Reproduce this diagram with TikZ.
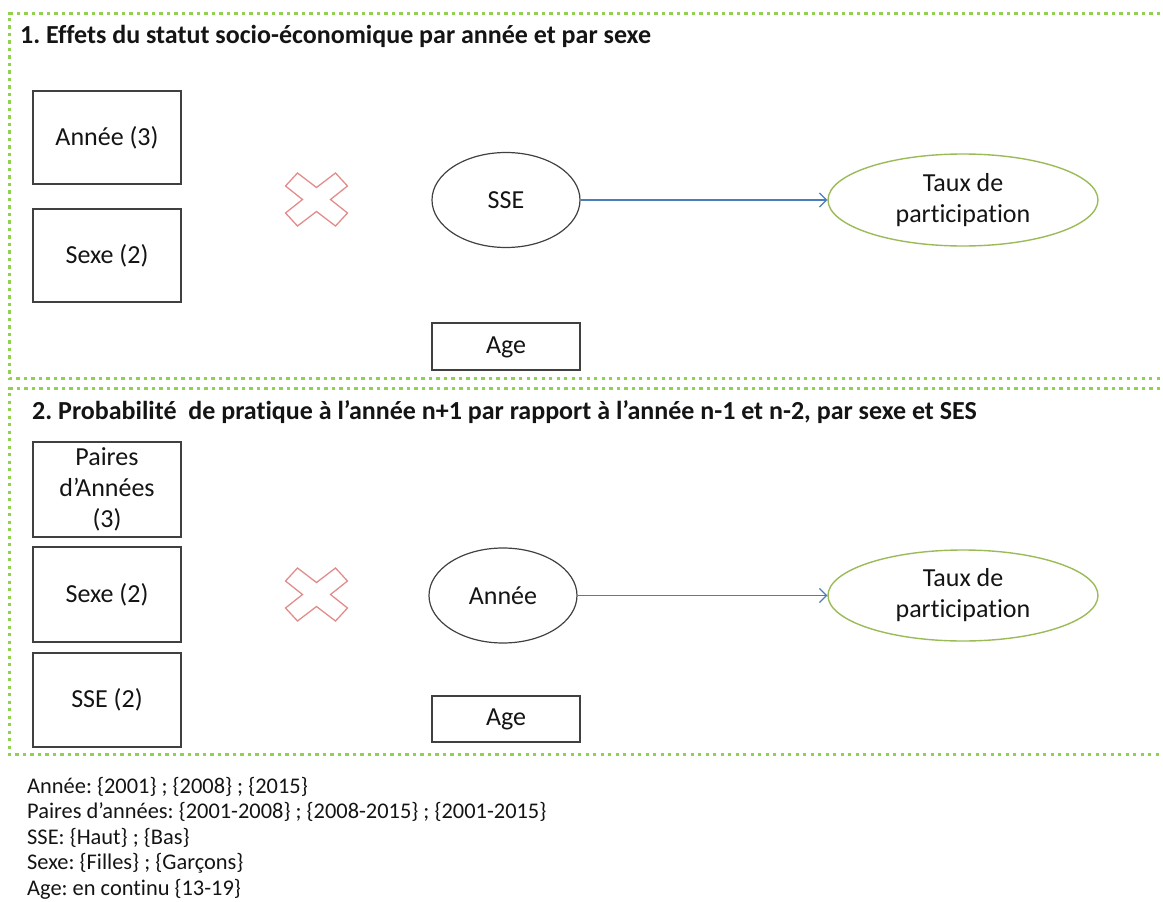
\documentclass[tikz,border=0pt]{standalone}
\usepackage{fontspec}
\setmainfont{Carlito}[RawFeature={-liga;-clig;-dlig}]
\usetikzlibrary{shapes.geometric,arrows.meta}
\frenchspacing
\newcommand{\tnl}{t\kern0pt i}
\newcommand{\fnl}{f\kern0pt f}
\definecolor{dotgreen}{RGB}{146,208,80}
\definecolor{ellgreen}{RGB}{155,187,89}
\definecolor{crossred}{RGB}{226,140,140}
\definecolor{arrblue}{RGB}{74,126,187}
\definecolor{boxgray}{RGB}{64,64,64}
\definecolor{txt}{RGB}{20,20,20}
\tikzset{
  frame/.style={dotgreen, line width=3.2pt, line cap=butt, dash pattern=on 3.2pt off 4.3pt},
  titletxt/.style={anchor=base west, inner sep=0pt, text=txt, font=\bfseries\fontsize{26}{31}\selectfont},
  varbox/.style={draw=boxgray, line width=1.4pt, rectangle, inner sep=0pt, text=txt, align=center, font=\fontsize{26}{31}\selectfont, fill=white},
  keyell/.style={draw=boxgray, line width=1.2pt, ellipse, inner sep=0pt, text=txt, align=center, font=\fontsize{26}{31}\selectfont},
  outell/.style={draw=ellgreen, line width=1.4pt, ellipse, inner sep=0pt, text=txt, align=center, font=\fontsize{26}{31}\selectfont},
  crossmark/.style={draw=crossred, line width=1.3pt, line join=miter},
  arr/.style={draw=arrblue, line width=1.2pt, -{Straight Barb[length=7pt,width=14pt,line width=1.2pt]}},
  legendtxt/.style={anchor=base west, inner sep=0pt, text=txt, font=\fontsize{22.4}{26}\selectfont},
}
\newcommand{\crossat}[1]{%
  \draw[crossmark] (#1) ++(-19,-27) -- ++(-12,13) -- ++(17,13.5) -- ++(-17,13.5) -- ++(12,13) -- ++(19,-14.5)
    -- ++(19,14.5) -- ++(12,-13) -- ++(-17,-13.5) -- ++(17,-13.5) -- ++(-12,-13) -- ++(-19,14.5) -- cycle;}
\begin{document}
\begin{tikzpicture}[x=1pt,y=-1pt]
\useasboundingbox (0,0) rectangle (1163,902);
\clip (0,0) rectangle (1163,902);
% frames
\draw[frame] (1175,13.5) -- (9.5,13.5) -- (9.5,378.5) -- (1175,378.5);
\draw[frame] (1175,388.5) -- (9.5,388.5) -- (9.5,754.5) -- (1175,754.5);
% section 1
\node[titletxt] (t1) at (20,43) {1. E\fnl ets du statut socio-économique par année et par sexe};
\node[varbox, minimum width=148pt, minimum height=93pt] (annee1) at (107,137.5) {Année (3)};
\node[varbox, minimum width=148pt, minimum height=93pt] (sexe1) at (107,255.5) {Sexe (2)};
\coordinate (c1) at (316.5,200);
\crossat{c1}
\node[keyell, minimum width=148pt, minimum height=95pt] (sse1) at (506,200) {SSE};
\node[outell, minimum width=270pt, minimum height=92pt] (taux1) at (963,200) {Taux de\\par\tnl cipa\tnl on};
\node[varbox, minimum width=148pt, minimum height=47pt, text depth=3pt] (age1) at (506,346.5) {Age};
\draw[arr] (sse1.east) -- (taux1.west);
% section 2
\node[titletxt] (t2) at (32,419) {2. Probabilité\ \ de pra\tnl que à l’année n+1 par rapport à l’année n-1 et n-2, par sexe et SES};
\node[varbox, minimum width=148pt, minimum height=95pt] (paires) at (107,489.5) {Paires\\d’Années\\(3)};
\node[varbox, minimum width=148pt, minimum height=95pt] (sexe2) at (107,594.5) {Sexe (2)};
\node[varbox, minimum width=148pt, minimum height=94pt] (sse2) at (107,700) {SSE (2)};
\coordinate (c2) at (316.5,595);
\crossat{c2}
\node[keyell, minimum width=148pt, minimum height=95pt] (annee2) at (503,595.5) {Année};
\node[outell, minimum width=270pt, minimum height=91pt] (taux2) at (963,595.5) {Taux de\\par\tnl cipa\tnl on};
\node[varbox, minimum width=148pt, minimum height=46pt, text depth=3pt] (age2) at (506,719) {Age};
\draw[arr] (annee2.east) -- (taux2.west);
% legend
\node[legendtxt] (l1) at (27,793) {Année: \{2001\} ; \{2008\} ; \{2015\}};
\node[legendtxt] (l2) at (27,818.5) {Paires d’années: \{2001-2008\} ; \{2008-2015\} ; \{2001-2015\}};
\node[legendtxt] (l3) at (27,844) {SSE: \{Haut\} ; \{Bas\}};
\node[legendtxt] (l4) at (27,869.5) {Sexe: \{Filles\} ; \{Garçons\}};
\node[legendtxt] (l5) at (27,895) {Age: en con\tnl nu \{13-19\}};
\end{tikzpicture}
\end{document}
